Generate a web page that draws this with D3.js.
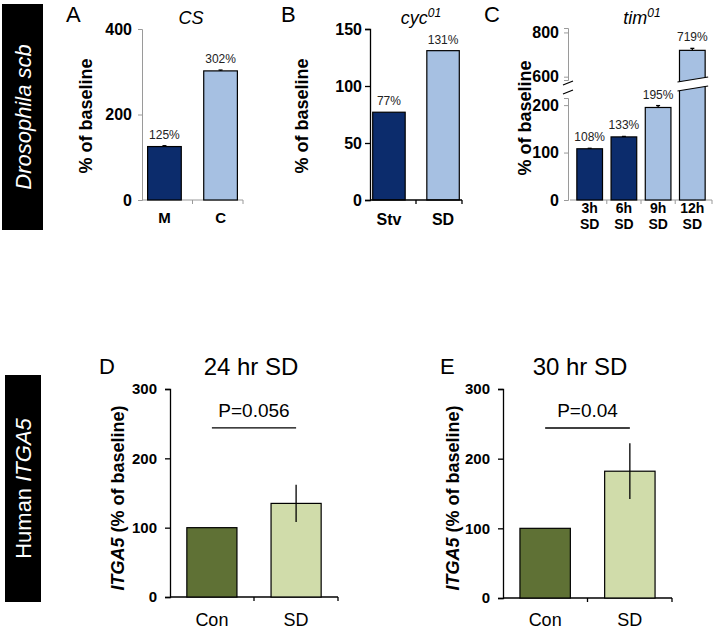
<!DOCTYPE html>
<html>
<head>
<meta charset="utf-8">
<script src="https://cdn.jsdelivr.net/npm/d3@7"></script>
<style>
  body { margin: 0; background: #fff; }
  svg { font-family: "Liberation Sans", Arial, sans-serif; }
  .tick text { font-weight: bold; font-size: 15px; fill: #000; }
  .top .tick text { font-size: 16px; }
  .gray-axis path, .gray-axis line { stroke: #9a9a9a; }
  .black-axis path, .black-axis line { stroke: #000; stroke-width: 1.3; }
  .pct { font-size: 12px; fill: #222; text-anchor: middle; }
</style>
</head>
<body>
<script>
// ---- data ----
const aCats = ["M", "C"];
const aValues = [125, 302];
const aErrors = [2, 2];
const aTicks = [0, 200, 400];

const bCats = ["Stv", "SD"];
const bValues = [77, 131];
const bTicks = [0, 50, 100, 150];

const cCats = ["3h SD", "6h SD", "9h SD", "12h SD"];
const cValues = [108, 133, 195, 719];
const cErrors = [1, 1, 4, 9];
const cLowerTicks = [0, 100, 200];
const cUpperTicks = [600, 800];

const dCats = ["Con", "SD"];
const dValues = [100, 135];
const dErrors = [0, 27];
const dP = "P=0.056";

const eCats = ["Con", "SD"];
const eValues = [100, 182];
const eErrors = [0, 40];
const eP = "P=0.04";

const humanTicks = [0, 100, 200, 300];
const pBracketValue = 244;

const navy = "#0c2c6c", lightBlue = "#a6c0e2";
const olive = "#5f7135", lightGreen = "#d0dcaa";

const svg = d3.select("body").append("svg")
  .attr("width", 716).attr("height", 631);

// row label boxes
function rowLabel(x, y, w, h, parts, size) {
  svg.append("rect").attr("x", x).attr("y", y).attr("width", w).attr("height", h).attr("fill", "#000");
  let t = svg.append("text")
    .attr("transform", "translate(" + (x + w / 2 + 8) + "," + (y + h / 2) + ") rotate(-90)")
    .attr("text-anchor", "middle")
    .attr("fill", "#fff")
    .style("font-size", size + "px");
  parts.forEach(function (p) {
    t.append("tspan").text(p.text).style("font-style", p.italic ? "italic" : "normal");
  });
}
rowLabel(2, 4, 41, 226, [{ text: "Drosophila scb", italic: true }], 22);
rowLabel(5, 375, 36, 227, [{ text: "Human ", italic: false }, { text: "ITGA5", italic: true }], 22);

// generic helpers
function yTitle(x, y, parts, size) {
  let t = svg.append("text")
    .attr("transform", "translate(" + x + "," + y + ") rotate(-90)")
    .attr("text-anchor", "middle")
    .style("font-weight", "bold")
    .style("font-size", size + "px");
  parts.forEach(function (p) {
    t.append("tspan").text(p.text).style("font-style", p.italic ? "italic" : "normal");
  });
}

function letter(x, y, s, size) {
  svg.append("text").attr("x", x).attr("y", y).text(s).style("font-size", size + "px");
}

function drawBars(x, y, cats, values, colors) {
  svg.append("g").selectAll("rect")
    .data(values)
    .join("rect")
    .attr("x", (d, i) => x(cats[i]))
    .attr("y", d => y(d))
    .attr("width", x.bandwidth())
    .attr("height", d => y(0) - y(d))
    .attr("fill", (d, i) => colors[i])
    .attr("stroke", "#000")
    .attr("stroke-width", 1.2);
}

function drawErrors(x, y, cats, values, errors, cap) {
  let g = svg.append("g").attr("stroke", "#000").attr("stroke-width", 1.3);
  values.forEach(function (v, i) {
    if (!errors[i]) return;
    let cx = x(cats[i]) + x.bandwidth() / 2;
    let lo = cap ? v : v - errors[i];
    g.append("line").attr("x1", cx).attr("x2", cx).attr("y1", y(lo)).attr("y2", y(v + errors[i]));
    if (cap) g.append("line").attr("x1", cx - 2).attr("x2", cx + 2).attr("y1", y(v + errors[i])).attr("y2", y(v + errors[i]));
  });
}

function pctLabels(x, y, cats, values, errors) {
  svg.append("g").selectAll("text")
    .data(values)
    .join("text")
    .attr("class", "pct")
    .attr("x", (d, i) => x(cats[i]) + x.bandwidth() / 2)
    .attr("y", (d, i) => y(d + (errors ? errors[i] : 0)) - 7)
    .text(d => d + "%");
}

function xAxisLine(x, y0, cls, withTicks) {
  let r = x.range();
  let g = svg.append("g").attr("class", cls);
  g.append("path").attr("d", "M" + r[0] + "," + y0 + "H" + r[1]).attr("fill", "none");
  if (withTicks) {
    let edges = x.domain().slice(1).map(c => x(c) - x.step() * x.paddingInner() / 2);
    edges.push(r[1]);
    edges.forEach(e => g.append("line").attr("x1", e).attr("x2", e).attr("y1", y0).attr("y2", y0 + 4));
  }
}

function xLabels(x, y0, cats, opts) {
  let t = svg.append("g").selectAll("text")
    .data(cats)
    .join("text")
    .attr("text-anchor", "middle")
    .attr("x", d => x(d) + x.bandwidth() / 2)
    .attr("y", y0)
    .style("font-size", opts.size + "px")
    .style("font-weight", opts.bold ? "bold" : "normal");
  t.each(function (d) {
    let lines = opts.split ? d.split(" ") : [d];
    let sel = d3.select(this);
    lines.forEach((l, k) => sel.append("tspan").attr("x", x(d) + x.bandwidth() / 2).attr("dy", k ? "1.15em" : 0).text(l));
  });
}

function italicTitle(x, y, base, sup) {
  let t = svg.append("text").attr("x", x).attr("y", y).attr("text-anchor", "middle")
    .style("font-style", "italic").style("font-size", "18px");
  t.append("tspan").text(base);
  if (sup) t.append("tspan").attr("dy", -7).style("font-size", "12px").text(sup);
}

// ---- Panel A ----
const yA = d3.scaleLinear().domain([0, 400]).range([200, 29]);
const xA = d3.scaleBand().domain(aCats).range([142, 243]).paddingInner(0.4).paddingOuter(0.1);
svg.append("g").attr("class", "gray-axis top").attr("transform", "translate(142,0)")
  .call(d3.axisLeft(yA).tickValues(aTicks).tickSize(4).tickPadding(6));
xAxisLine(xA, 200, "gray-axis", true);
drawBars(xA, yA, aCats, aValues, [navy, lightBlue]);
drawErrors(xA, yA, aCats, aValues, aErrors, true);
pctLabels(xA, yA, aCats, aValues, aErrors);
xLabels(xA, 223, aCats, { size: 15, bold: true });
letter(66, 22, "A", 22);
italicTitle(191, 24, "CS");
yTitle(92, 116, [{ text: "% of baseline" }], 18);

// ---- Panel B ----
const yB = d3.scaleLinear().domain([0, 150]).range([200, 29]);
const xB = d3.scaleBand().domain(bCats).range([370, 462]).paddingInner(0.4).paddingOuter(0.05);
svg.append("g").attr("class", "black-axis top").attr("transform", "translate(370,0)")
  .call(d3.axisLeft(yB).tickValues(bTicks).tickSize(5).tickPadding(3));
drawBars(xB, yB, bCats, bValues, [navy, lightBlue]);
xAxisLine(xB, 200, "black-axis", true);
pctLabels(xB, yB, bCats, bValues, null);
xLabels(xB, 225, bCats, { size: 16, bold: true });
letter(281, 22, "B", 22);
italicTitle(421, 24, "cyc", "01");
yTitle(308, 116, [{ text: "% of baseline" }], 18);

// ---- Panel C (broken axis) ----
const yCLow = d3.scaleLinear().domain([0, 215]).range([200, 98]);
const yCHigh = d3.scaleLinear().domain([585, 820]).range([80, 28]);
const xC = d3.scaleBand().domain(cCats).range([570, 712]).paddingInner(0.25).paddingOuter(0.2);
svg.append("g").attr("class", "gray-axis top").attr("transform", "translate(568,0)")
  .call(d3.axisLeft(yCLow).tickValues(cLowerTicks).tickSize(4).tickPadding(5));
svg.append("g").attr("class", "gray-axis top").attr("transform", "translate(568,0)")
  .call(d3.axisLeft(yCHigh).tickValues(cUpperTicks).tickSize(4).tickPadding(5));
xAxisLine(xC, 200, "gray-axis", true);

// pick the scale that holds each value
const yC = v => (v > 215 ? yCHigh(v) : yCLow(v));
svg.append("g").selectAll("rect")
  .data(cValues)
  .join("rect")
  .attr("x", (d, i) => xC(cCats[i]))
  .attr("y", d => yC(d))
  .attr("width", xC.bandwidth())
  .attr("height", d => yCLow(0) - yC(d))
  .attr("fill", (d, i) => (i < 2 ? navy : lightBlue))
  .attr("stroke", "#000")
  .attr("stroke-width", 1.2);
drawErrors(xC, yC, cCats, cValues, cErrors, true);
pctLabels(xC, yC, cCats, cValues, cErrors);

// break on the tall bar and on the axis
const bTop = yCHigh.range()[0];
cValues.forEach(function (v, i) {
  if (v <= 215) return;
  let x0 = xC(cCats[i]) - 2, x1 = xC(cCats[i]) + xC.bandwidth() + 3;
  svg.append("polygon")
    .attr("points", [[x0, bTop + 2], [x1, bTop - 3], [x1, bTop + 6], [x0, bTop + 11]].join(" "))
    .attr("fill", "#fff");
  svg.append("line").attr("x1", x0).attr("y1", bTop + 2).attr("x2", x1).attr("y2", bTop - 3).attr("stroke", "#000").attr("stroke-width", 1.2);
  svg.append("line").attr("x1", x0).attr("y1", bTop + 11).attr("x2", x1).attr("y2", bTop + 6).attr("stroke", "#000").attr("stroke-width", 1.2);
});
svg.append("line").attr("x1", 563).attr("y1", bTop + 5).attr("x2", 573).attr("y2", bTop + 1).attr("stroke", "#000").attr("stroke-width", 1.2);
svg.append("line").attr("x1", 563).attr("y1", bTop + 14).attr("x2", 573).attr("y2", bTop + 10).attr("stroke", "#000").attr("stroke-width", 1.2);

xLabels(xC, 213, cCats, { size: 14, bold: true, split: true });
letter(484, 22, "C", 22);
italicTitle(642, 24, "tim", "01");
yTitle(531, 118, [{ text: "% of baseline" }], 18);

// ---- Panels D and E ----
function humanPanel(x0, x1, yBottom, cats, values, errors, pText, letterX, title, titleX, titleY) {
  const y = d3.scaleLinear().domain([0, 300]).range([yBottom, 389]);
  const x = d3.scaleBand().domain(cats).range([x0, x1]).paddingInner(0.405).paddingOuter(0.2);
  svg.append("g").attr("class", "black-axis").attr("transform", "translate(" + x0 + ",0)")
    .call(d3.axisLeft(y).tickValues(humanTicks).tickSize(5).tickPadding(8));
  xAxisLine(x, yBottom, "black-axis", true);
  drawBars(x, y, cats, values, [olive, lightGreen]);
  drawErrors(x, y, cats, values, errors, false);
  let c0 = x(cats[0]) + x.bandwidth() / 2, c1 = x(cats[1]) + x.bandwidth() / 2;
  svg.append("line").attr("x1", c0).attr("x2", c1)
    .attr("y1", y(pBracketValue)).attr("y2", y(pBracketValue))
    .attr("stroke", "#000").attr("stroke-width", 1.3);
  svg.append("text").attr("x", (c0 + c1) / 2).attr("y", y(pBracketValue) - 11)
    .attr("text-anchor", "middle").style("font-size", "19px").text(pText);
  xLabels(x, 626, cats, { size: 18, bold: false });
  letter(letterX, 374, title[0], 22);
  svg.append("text").attr("x", titleX).attr("y", 375).attr("text-anchor", "middle")
    .style("font-size", "24px").text(title[1]);
  yTitle(titleY, 498, [{ text: "ITGA5", italic: true }, { text: " (% of baseline)" }], 18);
}
humanPanel(170, 338, 597, dCats, dValues, dErrors, dP, 99, ["D", "24 hr SD"], 251, 124);
humanPanel(503, 672, 598, eCats, eValues, eErrors, eP, 440, ["E", "30 hr SD"], 580, 459);
</script>
</body>
</html>
